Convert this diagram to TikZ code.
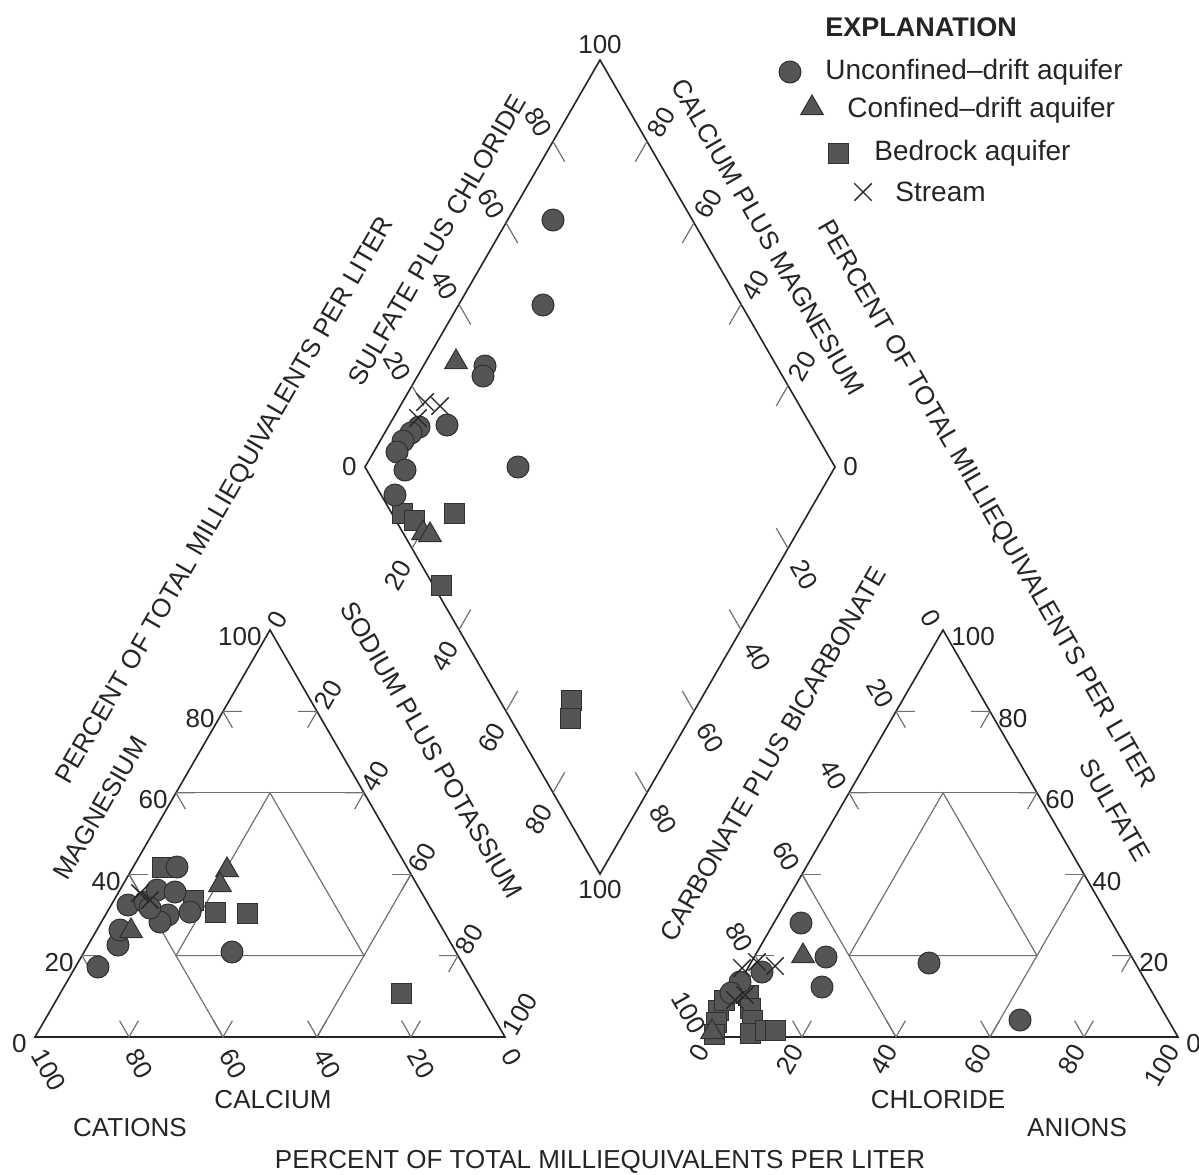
\documentclass[tikz,border=0pt]{standalone}
\usepackage{fontspec}
\setmainfont{Liberation Sans}
\usetikzlibrary{shapes.geometric,shapes.misc}
\definecolor{ink}{HTML}{252525}
\definecolor{grid}{HTML}{707070}
\definecolor{markfill}{HTML}{555555}
\definecolor{markline}{HTML}{303030}
\tikzset{
  edge/.style={draw=ink, line width=0.8pt},
  inner/.style={draw=grid, line width=0.6pt},
  tick/.style={draw=grid, line width=0.6pt},
  lab/.style={font=\fontsize{13}{15}\selectfont, text=ink, inner sep=1pt},
  leg/.style={font=\fontsize{14}{16}\selectfont, text=ink, inner sep=1pt, anchor=west},
  unconf/.style={circle, fill=markfill, draw=markline, line width=0.5pt, minimum size=11pt, inner sep=0pt},
  conf/.style={regular polygon, regular polygon sides=3, fill=markfill, draw=markline, line width=0.5pt, minimum size=13pt, inner sep=0pt},
  bedrock/.style={rectangle, fill=markfill, draw=markline, line width=0.5pt, minimum size=10pt, inner sep=0pt},
  stream/.style={cross out, draw=ink, line width=0.7pt, minimum size=8pt, inner sep=0pt},
}
% ticks on edge #1--#2 of a ternary plot, pointing toward #3 (weights as fractions)
\newcommand{\ternticks}[3]{%
  \foreach \i in {20,40,60,80}{
    \pgfmathsetmacro{\fq}{\i/100}
    \pgfmathsetmacro{\j}{(100-\i)/100}
    \pgfmathsetmacro{\ja}{(96-\i)/100}
    \pgfmathsetmacro{\ia}{(\i-4)/100}
    \draw[tick] (barycentric cs:#1=\j,#2=\fq) -- (barycentric cs:#1=\ja,#2=\fq,#3=0.04);
    \draw[tick] (barycentric cs:#1=\j,#2=\fq) -- (barycentric cs:#1=\j,#2=\ia,#3=0.04);
  }}
\begin{document}
\begin{tikzpicture}[x=0.5pt,y=-0.5pt]
\useasboundingbox (0,0) rectangle (1199,1174);

% cation triangle
\coordinate (ca) at (35,1037);
\coordinate (na) at (505,1037);
\coordinate (mg) at (270,630);
\draw[edge] (ca) -- (na) -- (mg) -- cycle;
\draw[inner] (barycentric cs:ca=.4,mg=.6) -- (barycentric cs:na=.4,mg=.6);
\draw[inner] (barycentric cs:ca=.6,mg=.4) -- (barycentric cs:ca=.6,na=.4);
\draw[inner] (barycentric cs:na=.6,mg=.4) -- (barycentric cs:na=.6,ca=.4);
\draw[inner] (barycentric cs:ca=.2,na=.2,mg=.6) -- (barycentric cs:ca=.6,na=.2,mg=.2)
  -- (barycentric cs:ca=.2,na=.6,mg=.2) -- cycle;
\ternticks{ca}{na}{mg}
\ternticks{na}{mg}{ca}
\ternticks{mg}{ca}{na}
\foreach \v in {0,20,...,100}{
  \pgfmathsetmacro{\fv}{\v/100}
  \pgfmathsetmacro{\fw}{1-\v/100}
  \node[lab, xshift=-3pt, yshift=-3.5pt, anchor=east] (mgl\v) at (barycentric cs:ca=\fw,mg=\fv) {\v};
  \node[lab, xshift=1pt, yshift=-6pt, rotate=-60, anchor=west] (cal\v) at (barycentric cs:ca=\fv,na=\fw) {\v};
  \node[lab, xshift=1.5pt, yshift=1pt, rotate=60, anchor=west] (nal\v) at (barycentric cs:na=\fv,mg=\fw) {\v};
}

% anion triangle
\coordinate (co) at (708,1037);
\coordinate (cl) at (1178,1037);
\coordinate (so) at (943,630);
\draw[edge] (co) -- (cl) -- (so) -- cycle;
\draw[inner] (barycentric cs:co=.4,so=.6) -- (barycentric cs:cl=.4,so=.6);
\draw[inner] (barycentric cs:co=.6,so=.4) -- (barycentric cs:co=.6,cl=.4);
\draw[inner] (barycentric cs:cl=.6,so=.4) -- (barycentric cs:cl=.6,co=.4);
\draw[inner] (barycentric cs:co=.2,cl=.2,so=.6) -- (barycentric cs:co=.6,cl=.2,so=.2)
  -- (barycentric cs:co=.2,cl=.6,so=.2) -- cycle;
\ternticks{co}{cl}{so}
\ternticks{cl}{so}{co}
\ternticks{so}{co}{cl}
\foreach \v in {0,20,...,100}{
  \pgfmathsetmacro{\fv}{\v/100}
  \pgfmathsetmacro{\fw}{1-\v/100}
  \node[lab, xshift=3pt, yshift=-3.5pt, anchor=west] (sol\v) at (barycentric cs:cl=\fw,so=\fv) {\v};
  \node[lab, xshift=-2pt, yshift=-3.75pt, rotate=60, anchor=east] (cll\v) at (barycentric cs:cl=\fv,co=\fw) {\v};
  \node[lab, xshift=-3.5pt, yshift=1.75pt, rotate=-60, anchor=east] (col\v) at (barycentric cs:co=\fv,so=\fw) {\v};
}

% diamond
\coordinate (dl) at (365,467);
\coordinate (db) at (600,874);
\coordinate (dr) at (835,467);
\coordinate (dt) at (600,60);
\draw[edge] (dl) -- (dt) -- (dr) -- (db) -- cycle;
\foreach \i in {20,40,60,80}{
  \pgfmathtruncatemacro{\w}{100-\i}
  \pgfmathsetmacro{\fq}{\i/100}
  \pgfmathsetmacro{\fw}{1-\i/100}
  \pgfmathsetmacro{\m}{-\i/100}
  \pgfmathsetmacro{\mf}{(5-\i)/100}
  \pgfmathsetmacro{\wf}{(95-\i)/100}
  \draw[tick] (barycentric cs:db=\m,dr=\fq,dl=1) -- (barycentric cs:db=\mf,dr=\fq,dl=.95);
  \draw[tick] (barycentric cs:db=\m,dr=1,dl=\fq) -- (barycentric cs:db=\mf,dr=.95,dl=\fq);
  \draw[tick] (barycentric cs:db=\fw,dl=\fq) -- (barycentric cs:db=\wf,dr=.05,dl=\fq);
  \draw[tick] (barycentric cs:db=\fw,dr=\fq) -- (barycentric cs:db=\wf,dr=\fq,dl=.05);
  \node[lab, xshift=-3pt, yshift=2.25pt, rotate=-60, anchor=east] (sc\i) at (barycentric cs:db=\m,dr=\fq,dl=1) {\i};
  \node[lab, xshift=3pt, yshift=2.25pt, rotate=60, anchor=west] (cm\i) at (barycentric cs:db=\m,dr=1,dl=\fq) {\i};
  \node[lab, xshift=-3pt, yshift=-6pt, rotate=60, anchor=east] (nk\i) at (barycentric cs:db=\fw,dl=\fq) {\w};
  \node[lab, xshift=4pt, yshift=-6pt, rotate=-60, anchor=west] (cb\i) at (barycentric cs:db=\fw,dr=\fq) {\w};
}
\node[lab, xshift=-3pt, anchor=east] (dl0) at (dl) {0};
\node[lab, xshift=3pt, anchor=west] (dr0) at (dr) {0};
\node[lab, yshift=2pt, anchor=south] (dt100) at (dt) {100};
\node[lab, yshift=-2pt, anchor=north] (db100) at (db) {100};

% axis titles
\node[lab, rotate=60] (pctl) at (226,501) {PERCENT OF TOTAL MILLIEQUIVALENTS PER LITER};
\node[lab, rotate=-60] (pctr) at (986,505) {PERCENT OF TOTAL MILLIEQUIVALENTS PER LITER};
\node[lab] (pctb) at (600,1162) {PERCENT OF TOTAL MILLIEQUIVALENTS PER LITER};
\node[lab, rotate=60] (sulch) at (437,240) {SULFATE PLUS CHLORIDE};
\node[lab, rotate=-60] (camg) at (768,237) {CALCIUM PLUS MAGNESIUM};
\node[lab, rotate=60] (magn) at (100,808) {MAGNESIUM};
\node[lab, rotate=-60] (sodk) at (432,750) {SODIUM PLUS POTASSIUM};
\node[lab, rotate=60] (carb) at (773,754) {CARBONATE PLUS BICARBONATE};
\node[lab, rotate=-60] (sulf) at (1115,810) {SULFATE};
\node[lab] (calc) at (273,1100) {CALCIUM};
\node[lab] (cati) at (130,1128) {CATIONS};
\node[lab] (chlo) at (938,1100) {CHLORIDE};
\node[lab] (anio) at (1077,1128) {ANIONS};

% explanation
\node[leg, font=\bfseries\fontsize{13.5}{16}\selectfont] (expl) at (823,27) {EXPLANATION};
\node[unconf] (lgu) at (790,72) {};
\node[leg] (lgut) at (823,72) {Unconfined--drift aquifer};
\node[conf] (lgc) at (812,108) {};
\node[leg] (lgct) at (845,110) {Confined--drift aquifer};
\node[bedrock] (lgb) at (838,153) {};
\node[leg] (lgbt) at (872,153) {Bedrock aquifer};
\node[stream] (lgs) at (863,192) {};
\node[leg] (lgst) at (893,192) {Stream};

% bedrock aquifer
\foreach \p [count=\n] in {(162,867),(193,900),(215,912),(247,913),(401,993),
    (402,513),(414,520),(454,513),(441,585),(571,700),(570,718),
    (718,1010),(716,1022),(714,1034),(724,1000),(748,995),(750,1008),(752,1020),(750,1033),
    (765,1030),(775,1030)}
  \node[bedrock] (b\n) at \p {};
% unconfined-drift aquifer
\foreach \p [count=\n] in {(98,967),(118,945),(120,930),(128,905),(145,902),(157,890),(175,892),
    (177,867),(168,915),(160,922),(150,908),(190,912),(232,952),
    (553,220),(543,305),(485,366),(483,376),(447,425),(518,467),(419,427),(411,433),
    (403,441),(397,452),(405,470),(395,495),
    (801,923),(826,957),(822,987),(929,963),(1020,1020),(762,972),(740,982),(731,993)}
  \node[unconf] (u\n) at \p {};
% confined-drift aquifer
\foreach \p [count=\n] in {(227,870),(220,885),(131,931),(456,362),(423,533),(430,535),(803,956),(712,1032)}
  \node[conf] (c\n) at \p {};
% stream
\foreach \p [count=\n] in {(140,893),(150,900),(425,402),(440,406),(418,418),
    (757,962),(775,966),(742,968),(745,995),(735,1000)}
  \node[stream] (s\n) at \p {};
\end{tikzpicture}
\end{document}
